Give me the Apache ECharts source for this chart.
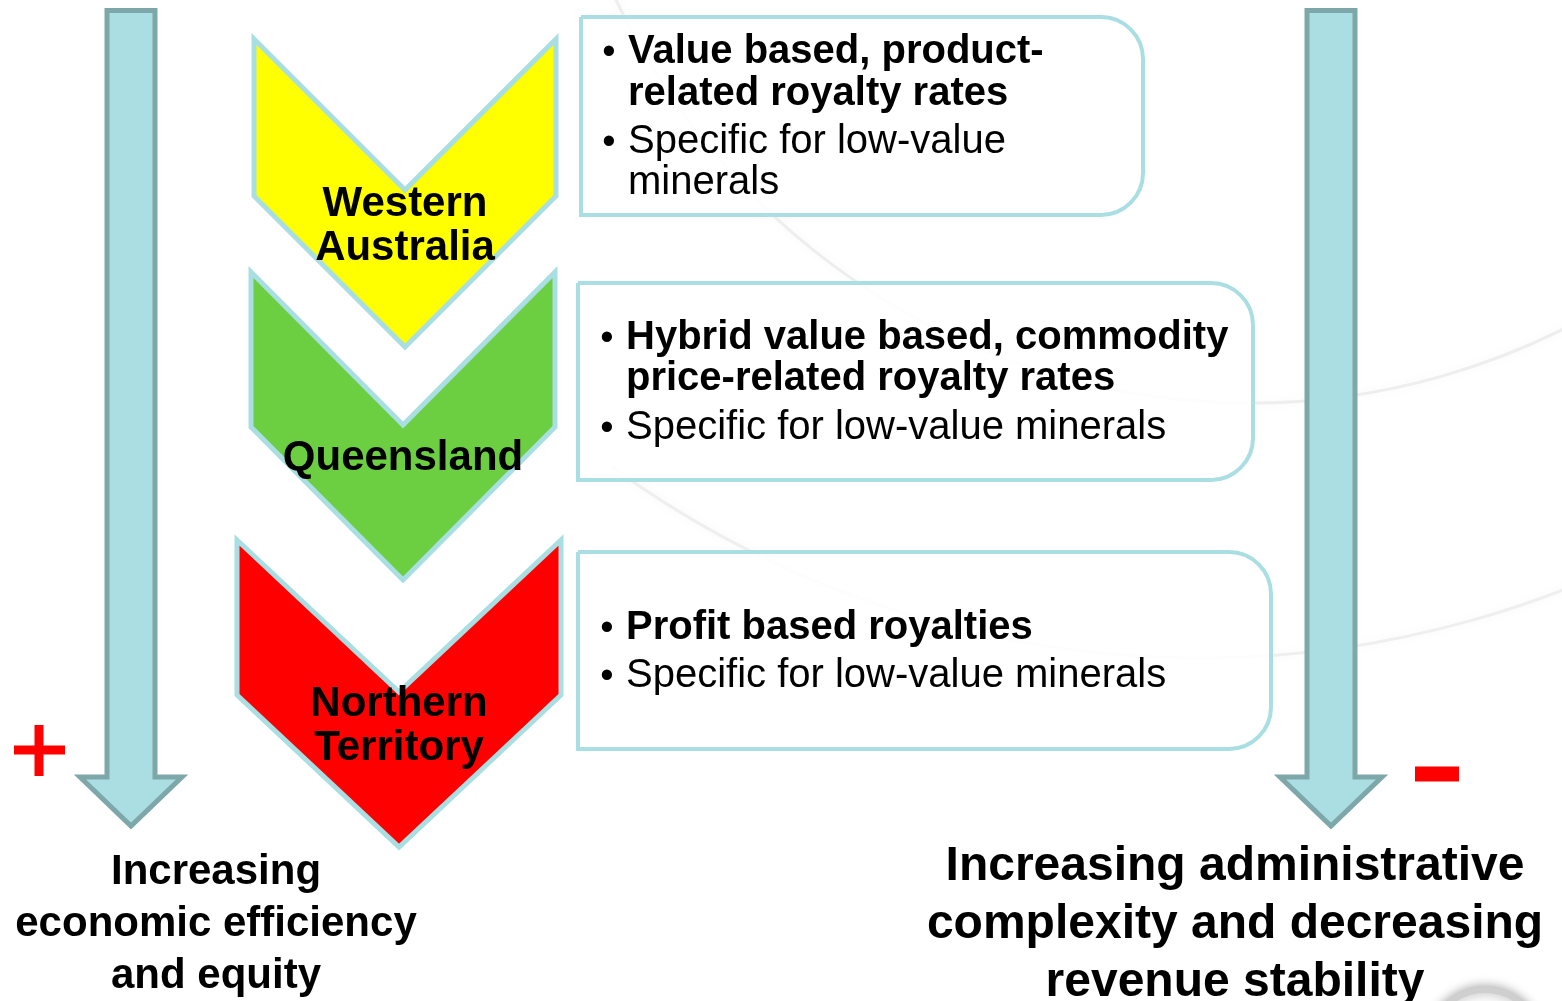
<!DOCTYPE html>
<html>
<head>
<meta charset="utf-8">
<script src="https://cdn.jsdelivr.net/npm/echarts@6/dist/echarts.min.js"></script>
<style>
html, body { margin: 0; padding: 0; background: #fff; }
#main { width: 1562px; height: 1001px; }
</style>
</head>
<body>
<div id="main"></div>
<script>
// content
var regions = ['Western\nAustralia', 'Queensland', 'Northern\nTerritory'];
var regionColors = ['#FFFF00', '#6CCF42', '#FF0000'];
var mainBullets = [
    ['Value based, product-', 'related royalty rates'],
    ['Hybrid value based, commodity', 'price-related royalty rates'],
    ['Profit based royalties']
];
var subBullets = [
    ['Specific for low-value', 'minerals'],
    ['Specific for low-value minerals'],
    ['Specific for low-value minerals']
];
var sideCaptions = [
    'Increasing\neconomic efficiency\nand equity',
    'Increasing administrative\ncomplexity and decreasing\nrevenue stability'
];
var sideSigns = ['+', '-'];

// layout (pixel space of the hidden axes)
var chevronLayout = [
    { cx: 405, top: 39, hw: 151, h: 157, d: 151, labelY: 226 },
    { cx: 403, top: 272, hw: 152, h: 155, d: 153, labelY: 458 },
    { cx: 399, top: 540, hw: 162, h: 155, d: 152, labelY: 726 }
];
var boxLayout = [
    { x0: 581, y0: 17, x1: 1143, y1: 215, bx: 609, tx: 628, lines: [52, 94, 142, 183] },
    { x0: 578, y0: 283, x1: 1253, y1: 480, bx: 607, tx: 626, lines: [338, 379, 428] },
    { x0: 578, y0: 552, x1: 1271, y1: 749, bx: 607, tx: 626, lines: [628, 676] }
];
var arrowLayout = [
    { cx: 131, captionX: 216, captionY: 924, fontSize: 42, lineHeight: 52, signX: 39, signY: 750 },
    { cx: 1331, captionX: 1235, captionY: 925, fontSize: 48, lineHeight: 58, signX: 1437, signY: 774 }
];

var FONT = '"Liberation Sans", Arial, sans-serif';
var myChart = echarts.init(document.getElementById('main'));

function chevronItem(params, api) {
    var i = params.dataIndex;
    var L = chevronLayout[i];
    var pts = [
        [L.cx - L.hw, L.top], [L.cx, L.top + L.d], [L.cx + L.hw, L.top],
        [L.cx + L.hw, L.top + L.h], [L.cx, L.top + L.h + L.d], [L.cx - L.hw, L.top + L.h]
    ].map(function (p) { return api.coord(p); });
    var c = api.coord([L.cx, L.labelY]);
    return {
        type: 'group',
        children: [{
            type: 'polygon',
            shape: { points: pts },
            style: { fill: regionColors[i], stroke: '#A9DEE3', lineWidth: 5, lineJoin: 'miter' }
        }, {
            type: 'text',
            style: {
                x: c[0], y: c[1], text: regions[i],
                fontFamily: FONT, fontSize: 42, fontWeight: 'bold', lineHeight: 44,
                fill: '#000', align: 'center', verticalAlign: 'middle'
            }
        }]
    };
}

function boxItem(params, api) {
    var i = params.dataIndex;
    var B = boxLayout[i];
    var p0 = api.coord([B.x0, B.y0]);
    var p1 = api.coord([B.x1, B.y1]);
    var children = [{
        type: 'rect',
        shape: { x: p0[0], y: p0[1], width: p1[0] - p0[0], height: p1[1] - p0[1], r: [0, 42, 42, 0] },
        style: { fill: 'rgba(255,255,255,0.85)', stroke: '#A9DEE3', lineWidth: 4 }
    }];
    var rows = [];
    mainBullets[i].forEach(function (t, k) { rows.push({ text: t, bold: true, first: k === 0 }); });
    subBullets[i].forEach(function (t, k) { rows.push({ text: t, bold: false, first: k === 0 }); });
    rows.forEach(function (r, k) {
        var pt = api.coord([B.tx, B.lines[k]]);
        if (r.first) {
            var bp = api.coord([B.bx, B.lines[k]]);
            children.push({
                type: 'text',
                style: { x: bp[0], y: bp[1] + 2, text: '\u2022', fontFamily: FONT, fontSize: 38,
                    fill: '#000', align: 'center', verticalAlign: 'middle' }
            });
        }
        children.push({
            type: 'text',
            style: {
                x: pt[0], y: pt[1], text: r.text,
                fontFamily: FONT, fontSize: 40, fontWeight: r.bold ? 'bold' : 'normal',
                fill: '#000', align: 'left', verticalAlign: 'middle'
            }
        });
    });
    return { type: 'group', children: children };
}

function arrowItem(params, api) {
    var i = params.dataIndex;
    var A = arrowLayout[i];
    var sh = 24, hh = 51, top = 10.5, headY = 777, tipY = 826;
    var pts = [
        [A.cx - sh, top], [A.cx + sh, top], [A.cx + sh, headY], [A.cx + hh, headY],
        [A.cx, tipY], [A.cx - hh, headY], [A.cx - sh, headY]
    ].map(function (p) { return api.coord(p); });
    var cap = api.coord([A.captionX, A.captionY]);
    var s = api.coord([A.signX, A.signY]);
    var sign;
    if (sideSigns[i] === '+') {
        sign = {
            type: 'group',
            children: [
                { type: 'rect', shape: { x: s[0] - 25, y: s[1] - 4.5, width: 51, height: 9 }, style: { fill: '#FF0000' } },
                { type: 'rect', shape: { x: s[0] - 4.5, y: s[1] - 25, width: 9, height: 51 }, style: { fill: '#FF0000' } }
            ]
        };
    } else {
        sign = { type: 'rect', shape: { x: s[0] - 22, y: s[1] - 7.5, width: 44, height: 15 }, style: { fill: '#FF0000' } };
    }
    return {
        type: 'group',
        children: [{
            type: 'polygon',
            shape: { points: pts },
            style: { fill: '#ABDEE2', stroke: '#7EA7AA', lineWidth: 5, lineJoin: 'miter' }
        }, sign, {
            type: 'text',
            style: {
                x: cap[0], y: cap[1], text: sideCaptions[i],
                fontFamily: FONT, fontSize: A.fontSize, fontWeight: 'bold', lineHeight: A.lineHeight,
                fill: '#000', align: 'center', verticalAlign: 'middle'
            }
        }]
    };
}

var option = {
    backgroundColor: '#fff',
    animation: false,
    grid: { left: 0, right: 0, top: 0, bottom: 0 },
    xAxis: { type: 'value', min: 0, max: 1562, show: false },
    yAxis: { type: 'value', min: 0, max: 1001, inverse: true, show: false },
    graphic: [
        // faint background arcs
        { type: 'arc', z: -10, shape: { cx: 1250, cy: -297, r: 700, startAngle: 0.1, endAngle: 2.75 },
          style: { fill: 'none', stroke: '#eeeeee', lineWidth: 3, shadowBlur: 10, shadowColor: 'rgba(0,0,0,0.05)' } },
        { type: 'arc', z: -10, shape: { cx: 1200, cy: -342, r: 1000, startAngle: 0.1, endAngle: 2.2 },
          style: { fill: 'none', stroke: '#efefef', lineWidth: 3, shadowBlur: 10, shadowColor: 'rgba(0,0,0,0.05)' } },
        { type: 'circle', z: -10, shape: { cx: 1485, cy: 1045, r: 55 },
          style: { fill: '#fff', stroke: '#cfcfcf', lineWidth: 6, shadowBlur: 12, shadowColor: 'rgba(0,0,0,0.35)' } }
    ],
    series: [{
        name: 'arrows',
        type: 'custom',
        renderItem: arrowItem,
        clip: false,
        data: sideCaptions.map(function (_, i) { return [i, i]; })
    }, {
        name: 'chevrons',
        type: 'custom',
        renderItem: chevronItem,
        clip: false,
        data: regions.map(function (_, i) { return [i, i]; })
    }, {
        name: 'boxes',
        type: 'custom',
        renderItem: boxItem,
        clip: false,
        data: mainBullets.map(function (_, i) { return [i, i]; })
    }]
};
myChart.setOption(option);
</script>
</body>
</html>
